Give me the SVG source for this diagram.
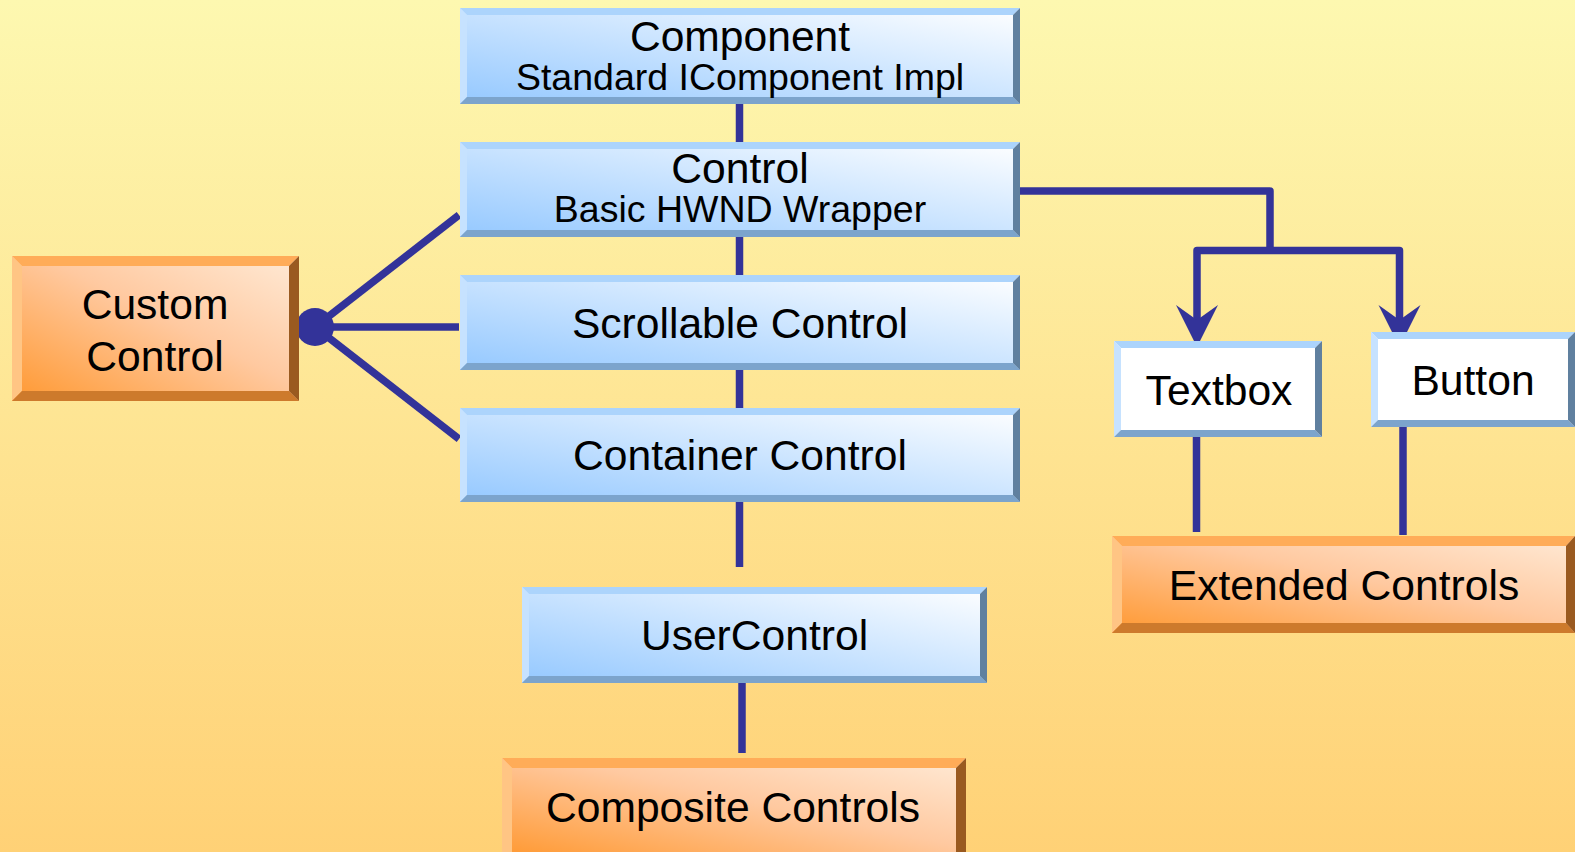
<svg xmlns="http://www.w3.org/2000/svg" width="1575" height="852" viewBox="0 0 1575 852">
  <defs>
    <linearGradient id="bg" x1="0" y1="0" x2="0" y2="1">
      <stop offset="0" stop-color="#FDF8B0"/>
      <stop offset="1" stop-color="#FFD176"/>
    </linearGradient>
    <linearGradient id="blueFill" x1="0" y1="1" x2="1" y2="0">
      <stop offset="0" stop-color="#94C8FF"/>
      <stop offset="1" stop-color="#FFFFFF"/>
    </linearGradient>
    <linearGradient id="orangeFill" x1="0" y1="1" x2="1" y2="0">
      <stop offset="0" stop-color="#FF9830"/>
      <stop offset="0.55" stop-color="#FFC9A0"/>
      <stop offset="1" stop-color="#FFEAD6"/>
    </linearGradient>
  </defs>
  <style>
    .bt { fill: #ACD4FC; }
    .bl { fill: #C6E2FF; }
    .bb { fill: #7CA4CC; }
    .br { fill: #60809F; }
    .ot { fill: #FFAC58; }
    .ol { fill: #FFC584; }
    .ob { fill: #CD7A2C; }
    .or { fill: #9A5A20; }
    .blue { fill: url(#blueFill); }
    .orange { fill: url(#orangeFill); }
    .white { fill: #FFFFFF; }
    text { font-family: "Liberation Sans", Arial, sans-serif; fill: #000; text-anchor: middle; }
    .big { font-size: 42.6px; }
    .small { font-size: 37.5px; }
    .wire { stroke: #333399; stroke-width: 7.5; fill: none; stroke-linejoin: round; }
    .head { fill: #333399; }
  </style>

  <rect width="1575" height="852" fill="url(#bg)"/>

  <!-- connectors -->
  <g id="connectors">
    <line class="wire" x1="739.5" y1="103" x2="739.5" y2="142"/>
    <line class="wire" x1="739.5" y1="236" x2="739.5" y2="276"/>
    <line class="wire" x1="739.5" y1="369" x2="739.5" y2="409"/>
    <line class="wire" x1="739.5" y1="501" x2="739.5" y2="567"/>
    <line class="wire" x1="742" y1="682" x2="742" y2="753"/>
    <line class="wire" x1="315" y1="327" x2="459" y2="215"/>
    <line class="wire" x1="315" y1="327" x2="459" y2="327"/>
    <line class="wire" x1="315" y1="327" x2="459" y2="439"/>
    <circle class="head" cx="315" cy="327" r="19"/>
    <path class="wire" d="M1019 191 H1270 V250"/>
    <path class="wire" d="M1197 322 V250.5 H1399.5 V322"/>
    <polygon class="head" points="1197,347 1176,305 1197,320 1218,305"/>
    <polygon class="head" points="1399.5,347 1378.5,305 1399.5,320 1420.5,305"/>
    <line class="wire" x1="1196.5" y1="435" x2="1196.5" y2="532"/>
    <line class="wire" x1="1403" y1="426" x2="1403" y2="535"/>
  </g>

  <!-- Component -->
  <g id="component">
    <rect class="blue" x="460" y="8" width="560" height="96"/>
    <polygon class="bt" points="460,8 1020,8 1013,15 467,15"/>
    <polygon class="bl" points="460,8 467,15 467,97 460,104"/>
    <polygon class="bb" points="460,104 467,97 1013,97 1020,104"/>
    <polygon class="br" points="1020,8 1020,104 1013,97 1013,15"/>
    <text class="big" x="740" y="51">Component</text>
    <text class="small" x="740" y="89.5">Standard IComponent Impl</text>
  </g>

  <!-- Control -->
  <g id="control">
    <rect class="blue" x="460" y="142" width="560" height="95"/>
    <polygon class="bt" points="460,142 1020,142 1013,149 467,149"/>
    <polygon class="bl" points="460,142 467,149 467,230 460,237"/>
    <polygon class="bb" points="460,237 467,230 1013,230 1020,237"/>
    <polygon class="br" points="1020,142 1020,237 1013,230 1013,149"/>
    <text class="big" x="740" y="183">Control</text>
    <text class="small" x="740" y="222">Basic HWND Wrapper</text>
  </g>

  <!-- Scrollable Control -->
  <g id="scrollable">
    <rect class="blue" x="460" y="275" width="560" height="95"/>
    <polygon class="bt" points="460,275 1020,275 1013,282 467,282"/>
    <polygon class="bl" points="460,275 467,282 467,363 460,370"/>
    <polygon class="bb" points="460,370 467,363 1013,363 1020,370"/>
    <polygon class="br" points="1020,275 1020,370 1013,363 1013,282"/>
    <text class="big" x="740" y="338">Scrollable Control</text>
  </g>

  <!-- Container Control -->
  <g id="container">
    <rect class="blue" x="460" y="408" width="560" height="94"/>
    <polygon class="bt" points="460,408 1020,408 1013,415 467,415"/>
    <polygon class="bl" points="460,408 467,415 467,495 460,502"/>
    <polygon class="bb" points="460,502 467,495 1013,495 1020,502"/>
    <polygon class="br" points="1020,408 1020,502 1013,495 1013,415"/>
    <text class="big" x="740" y="470">Container Control</text>
  </g>

  <!-- UserControl -->
  <g id="usercontrol">
    <rect class="blue" x="522" y="587" width="465" height="96"/>
    <polygon class="bt" points="522,587 987,587 980,594 529,594"/>
    <polygon class="bl" points="522,587 529,594 529,676 522,683"/>
    <polygon class="bb" points="522,683 529,676 980,676 987,683"/>
    <polygon class="br" points="987,587 987,683 980,676 980,594"/>
    <text class="big" x="754.5" y="650">UserControl</text>
  </g>

  <!-- Composite Controls -->
  <g id="composite">
    <rect class="orange" x="502" y="758" width="464" height="100"/>
    <polygon class="ot" points="502,758 966,758 956,768 512,768"/>
    <polygon class="ol" points="502,758 512,768 512,858 502,858"/>
    <polygon class="or" points="966,758 966,858 956,858 956,768"/>
    <text class="big" x="733" y="822">Composite Controls</text>
  </g>

  <!-- Custom Control -->
  <g id="custom">
    <rect class="orange" x="12" y="256" width="287" height="145"/>
    <polygon class="ot" points="12,256 299,256 289,266 22,266"/>
    <polygon class="ol" points="12,256 22,266 22,391 12,401"/>
    <polygon class="ob" points="12,401 22,391 289,391 299,401"/>
    <polygon class="or" points="299,256 299,401 289,391 289,266"/>
    <text class="big" x="155" y="319">Custom</text>
    <text class="big" x="155" y="371">Control</text>
  </g>

  <!-- Textbox -->
  <g id="textbox">
    <rect class="white" x="1114" y="341" width="208" height="96"/>
    <polygon class="bt" points="1114,341 1322,341 1315,348 1121,348"/>
    <polygon class="bl" points="1114,341 1121,348 1121,430 1114,437"/>
    <polygon class="bb" points="1114,437 1121,430 1315,430 1322,437"/>
    <polygon class="br" points="1322,341 1322,437 1315,430 1315,348"/>
    <text class="big" x="1219" y="405">Textbox</text>
  </g>

  <!-- Button -->
  <g id="button">
    <rect class="white" x="1371" y="332" width="204" height="95"/>
    <polygon class="bt" points="1371,332 1575,332 1568,339 1378,339"/>
    <polygon class="bl" points="1371,332 1378,339 1378,420 1371,427"/>
    <polygon class="bb" points="1371,427 1378,420 1568,420 1575,427"/>
    <polygon class="br" points="1575,332 1575,427 1568,420 1568,339"/>
    <text class="big" x="1473" y="395">Button</text>
  </g>

  <!-- Extended Controls -->
  <g id="extended">
    <rect class="orange" x="1112" y="536" width="463" height="97"/>
    <polygon class="ot" points="1112,536 1575,536 1566,546 1122,546"/>
    <polygon class="ol" points="1112,536 1122,546 1122,623 1112,633"/>
    <polygon class="ob" points="1112,633 1122,623 1566,623 1575,633"/>
    <polygon class="or" points="1575,536 1575,633 1566,623 1566,546"/>
    <text class="big" x="1344" y="600">Extended Controls</text>
  </g>
</svg>
